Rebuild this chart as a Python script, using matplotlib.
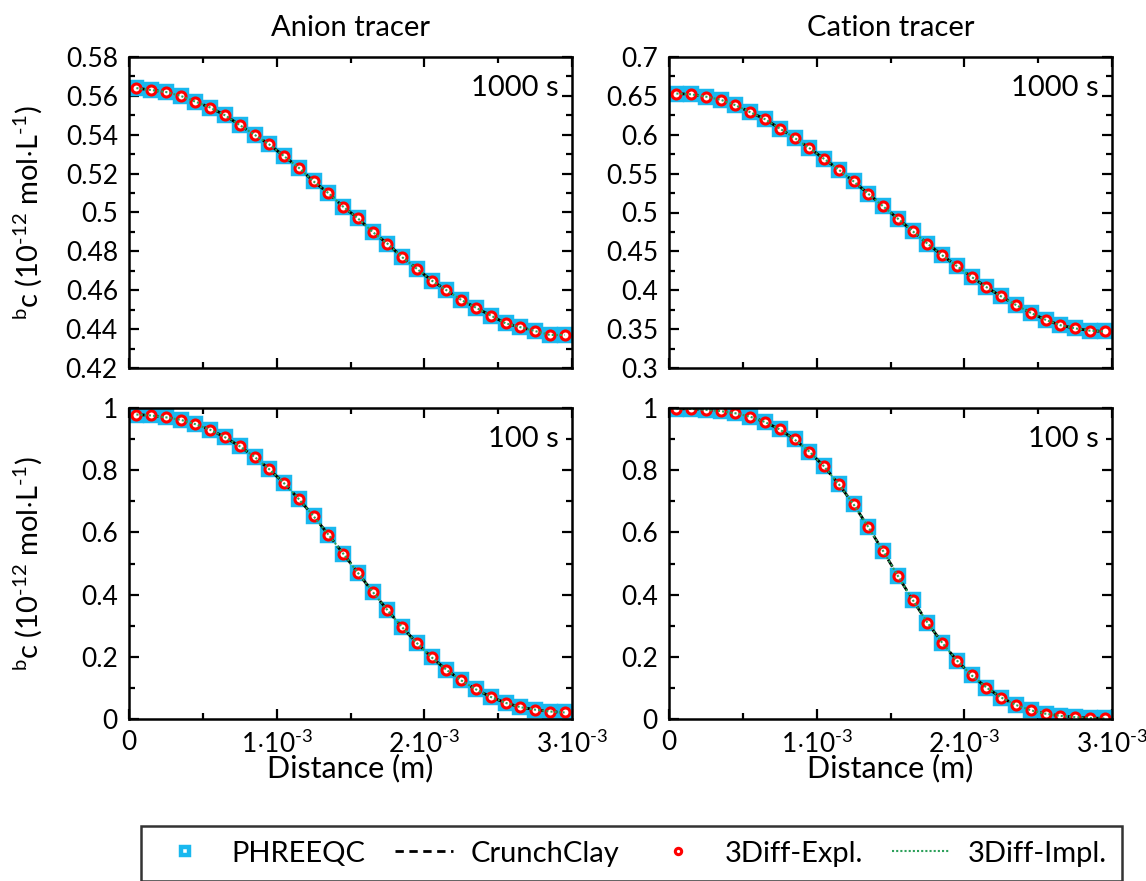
import matplotlib
matplotlib.use('Agg')
import matplotlib.pyplot as plt
from matplotlib.ticker import MultipleLocator, AutoMinorLocator, FuncFormatter

plt.rcParams['font.family'] = ['Lato', 'DejaVu Sans']
plt.rcParams['mathtext.fontset'] = 'custom'
plt.rcParams['mathtext.rm'] = 'Lato'
plt.rcParams['mathtext.it'] = 'Lato'
plt.rcParams['mathtext.default'] = 'regular'

# distance of the cell centres (m)
distance = [(0.05 + 0.1 * i) * 1e-3 for i in range(30)]

anion_1000 = [0.564, 0.563, 0.562, 0.560, 0.557, 0.554, 0.550, 0.545, 0.540, 0.535,
              0.529, 0.523, 0.516, 0.510, 0.503, 0.497, 0.490, 0.484, 0.477, 0.471,
              0.465, 0.460, 0.455, 0.451, 0.447, 0.443, 0.441, 0.439, 0.437, 0.437]
cation_1000 = [0.653, 0.652, 0.649, 0.645, 0.638, 0.629, 0.620, 0.608, 0.596, 0.583,
               0.569, 0.555, 0.540, 0.524, 0.508, 0.492, 0.476, 0.460, 0.445, 0.431,
               0.417, 0.404, 0.392, 0.381, 0.371, 0.362, 0.355, 0.351, 0.348, 0.347]
anion_100 = [0.979, 0.976, 0.970, 0.962, 0.948, 0.930, 0.906, 0.877, 0.843, 0.803,
             0.758, 0.707, 0.652, 0.593, 0.532, 0.470, 0.409, 0.350, 0.295, 0.244,
             0.198, 0.158, 0.124, 0.095, 0.071, 0.052, 0.038, 0.030, 0.024, 0.021]
cation_100 = [0.998, 0.997, 0.994, 0.990, 0.983, 0.972, 0.955, 0.931, 0.899, 0.860,
              0.812, 0.755, 0.690, 0.617, 0.540, 0.460, 0.383, 0.310, 0.245, 0.188,
              0.140, 0.101, 0.069, 0.045, 0.028, 0.017, 0.010, 0.006, 0.003, 0.002]

x_ticks = [0, 1e-3, 2e-3, 3e-3]
x_ticklabels = ['0', r'$1{\cdot}10^{\text{-}3}$', r'$2{\cdot}10^{\text{-}3}$', r'$3{\cdot}10^{\text{-}3}$']

fig = plt.figure(figsize=(11.46, 8.81), dpi=100)

W = 443 / 1146
H = 311 / 881
panels = [
    # data, left px, top px, ylim, ymajor, time label, title
    (anion_1000, 129, 57, (0.42, 0.58), 0.02, '1000 s', 'Anion tracer'),
    (cation_1000, 669, 57, (0.3, 0.7), 0.05, '1000 s', 'Cation tracer'),
    (anion_100, 129, 408, (0, 1), 0.2, '100 s', None),
    (cation_100, 669, 408, (0, 1), 0.2, '100 s', None),
]

handles = None
for k, (vals, left, top, ylim, ymaj, tlabel, title) in enumerate(panels):
    ax = fig.add_axes([left / 1146, 1 - (top + 311) / 881, W, H])
    h1, = ax.plot(distance, vals, linestyle='none', marker='s', markersize=8,
                  markerfacecolor='none', markeredgecolor='#19b8ef', markeredgewidth=3.2,
                  label='PHREEQC')
    h2, = ax.plot(distance, vals, color='black', linestyle=(0, (3, 2)), linewidth=2,
                  label='CrunchClay')
    h3, = ax.plot(distance, vals, linestyle='none', marker='o', markersize=6.5,
                  markerfacecolor='white', markeredgecolor='#ff0000', markeredgewidth=2.2,
                  label='3Diff-Expl.')
    h4, = ax.plot(distance, vals, color='#2ca05a', linestyle=(0, (1, 1)), linewidth=1.5,
                  label='3Diff-Impl.')
    handles = [h1, h2, h3, h4]

    ax.set_xlim(0, 3e-3)
    ax.set_ylim(*ylim)
    ax.xaxis.set_major_locator(MultipleLocator(1e-3))
    ax.xaxis.set_minor_locator(AutoMinorLocator(2))
    ax.yaxis.set_major_locator(MultipleLocator(ymaj))
    ax.yaxis.set_minor_locator(AutoMinorLocator(2))
    ax.yaxis.set_major_formatter(FuncFormatter(lambda v, p: f'{round(v, 4):g}'))
    ax.tick_params(which='both', direction='in', top=True, right=True, width=1.6)
    ax.tick_params(which='major', length=7, labelsize=19, pad=8)
    ax.tick_params(which='minor', length=4)
    for s in ax.spines.values():
        s.set_linewidth(1.8)

    if k >= 2:
        ax.set_xticks(x_ticks)
        ax.set_xticklabels(x_ticklabels)
        ax.set_xlabel('Distance (m)', fontsize=22, labelpad=-3)
    else:
        ax.set_xticklabels([])
    if k % 2 == 0:
        ax.set_ylabel(r'$^{b}$c (10$^{\text{-}12}$ mol$\cdot$L$^{\text{-}1}$)', fontsize=21,
                      va='center')
        ax.yaxis.set_label_coords(-0.228, 0.5)
    if title:
        ax.set_title(title, fontsize=21, pad=15)
    ax.text(0.97, 0.9, tlabel, transform=ax.transAxes, ha='right', va='center', fontsize=21)

leg = fig.legend(handles=handles, loc='upper center', bbox_to_anchor=(0.551, 0.0624),
                 ncol=4, fontsize=21, frameon=True, fancybox=False, edgecolor='black',
                 handlelength=2.0, handletextpad=0.6, columnspacing=1.0, borderpad=0.5,
                 borderaxespad=0, markerscale=0.7)
leg.get_frame().set_linewidth(1.8)

fig.savefig('out.png', dpi=100)
